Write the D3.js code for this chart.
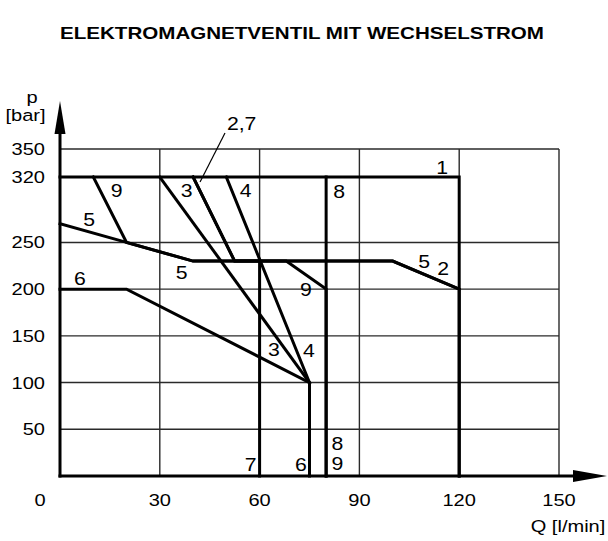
<!DOCTYPE html>
<html><head><meta charset="utf-8">
<script src="https://cdn.jsdelivr.net/npm/d3@7"></script>
<style>
html,body{margin:0;padding:0;background:#fff;}
svg{display:block;}
text{font-family:"Liberation Sans",Arial,sans-serif;fill:#000;}
</style></head>
<body>
<svg id="c" width="608" height="541"></svg>
<script>
// ---- data ----
const title = "ELEKTROMAGNETVENTIL MIT WECHSELSTROM";
const xTicks = [0, 30, 60, 90, 120, 150];
const yTicks = [50, 100, 150, 200, 250, 320, 350];
const xGrid = [30, 60, 90, 120, 150];
const yGrid = [50, 100, 150, 200, 250, 350];
const xTitle = "Q [l/min]";
const yTitle1 = "p";
const yTitle2 = "[bar]";

// characteristic curves: [Q l/min, p bar]
const curve1 = [[0,320],[120,320],[120,0]];
const curve2 = [[40,320],[52.5,230],[100,230],[120,200],[120,0]];
const curve3 = [[30,320],[75,100]];
const curve4 = [[50,320],[75,100]];
const curve5 = [[0,270],[20,250],[40,230],[100,230],[120,200]];
const curve6 = [[0,200],[20,200],[75,100],[75,0]];
const curve7 = [[40,320],[52.5,230],[60,230],[60,0]];
const curve8 = [[80,320],[80,0]];
const curve9 = [[10,320],[20,250],[40,230],[68,230],[80,200],[80,0]];
const curves = [curve1, curve2, curve3, curve4, curve5, curve6, curve7, curve8, curve9];

// curve number labels (text, Q, p)
const labelText = ["1","9","3","4","8","5","5","6","5","2","9","3","4","7","6","8","9","2,7"];
const labelQ    = [114.9,17.0,38.1,55.8,83.9,8.8,36.6,6.0,109.5,115.2,73.9,64.3,74.8,57.3,72.4,83.4,83.4,54.6];
const labelP    = [330.4,306.1,306.1,306.1,305.0,274.8,217.6,210.9,229.4,222.3,199.8,134.9,133.8,12.8,12.8,35.0,13.6,377.5];
const leader = [[49.6,367.1],[42.1,314.7]];

// ---- drawing ----
const svg = d3.select("#c");
const x = d3.scaleLinear().domain([0,150]).range([60,559]);
const y = d3.scaleLinear().domain([0,350]).range([476,149]);
const SX = 1.18;

function txt(str, px, py, size, anchor, weight){
  return svg.append("text")
    .attr("transform", `translate(${px},${py}) scale(${SX},1)`)
    .attr("text-anchor", anchor || "middle")
    .style("font-size", size + "px")
    .style("font-weight", weight || "normal")
    .text(str);
}

// title
svg.append("text")
  .attr("x", 302).attr("y", 39)
  .attr("text-anchor", "middle")
  .attr("textLength", 484).attr("lengthAdjust", "spacingAndGlyphs")
  .style("font-size", "16.5px").style("font-weight", "bold")
  .text(title);

// grid
const g = svg.append("g").attr("stroke", "#2a2a2a").attr("stroke-width", 1.4).attr("fill", "none");
g.selectAll("line.v").data(xGrid).join("line")
  .attr("x1", d => x(d)).attr("x2", d => x(d))
  .attr("y1", y(0)).attr("y2", y(350));
g.selectAll("line.h").data(yGrid).join("line")
  .attr("x1", x(0)).attr("x2", x(150))
  .attr("y1", d => y(d)).attr("y2", d => y(d));

// curves
const line = d3.line().x(d => x(d[0])).y(d => y(d[1]));
svg.append("g").selectAll("path").data(curves).join("path")
  .attr("d", line)
  .attr("fill", "none").attr("stroke", "#000").attr("stroke-width", 3)
  .attr("stroke-linejoin", "miter").attr("stroke-linecap", "square");

// leader line for 2,7
svg.append("path").attr("d", line(leader))
  .attr("fill", "none").attr("stroke", "#000").attr("stroke-width", 1.2);

// axes with arrows
const x0 = x(0), y0 = y(0);
svg.append("line").attr("x1", x0).attr("x2", x0).attr("y1", y0 + 1.5).attr("y2", 132)
  .attr("stroke", "#000").attr("stroke-width", 3);
svg.append("path").attr("d", `M${x0},101 L${x0+5.5},134 L${x0-5.5},134 Z`).attr("fill", "#000");
svg.append("line").attr("x1", x0 - 1.5).attr("x2", 575).attr("y1", y0).attr("y2", y0)
  .attr("stroke", "#000").attr("stroke-width", 3);
svg.append("path").attr("d", `M607,${y0} L573,${y0-6} L573,${y0+6} Z`).attr("fill", "#000");

// tick labels
xTicks.forEach(v => {
  const px = v === 0 ? x(0) - 20 : x(v);
  txt(String(v), px, 506, 17, "middle");
});
yTicks.forEach(v => {
  txt(String(v), 45, y(v) + 6, 17, "end");
});

// axis titles
txt(yTitle1, 32, 103, 17, "middle");
txt(yTitle2, 25.5, 120.5, 17, "middle");
txt(xTitle, 568, 532, 17, "middle");

// curve labels
labelText.forEach((t, i) => {
  txt(t, x(labelQ[i]), y(labelP[i]) + 6.5, 18, "middle");
});
</script>
</body></html>
